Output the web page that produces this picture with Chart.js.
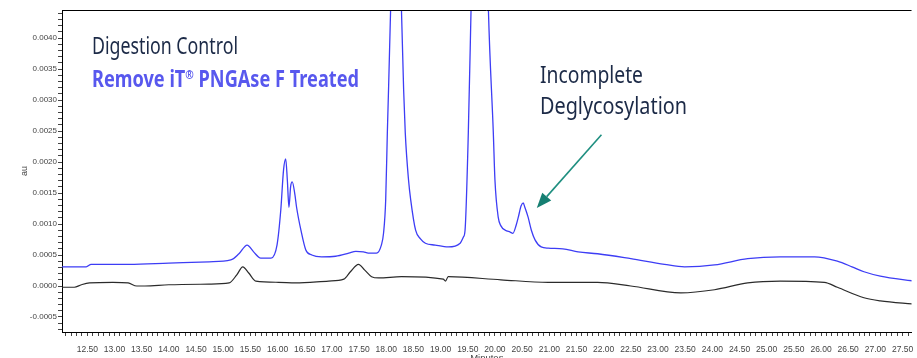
<!DOCTYPE html>
<html>
<head>
<meta charset="utf-8">
<script src="https://cdn.jsdelivr.net/npm/chart.js@4"></script>
<style>
html,body{margin:0;padding:0;background:#fff;}
#wrap{width:917px;height:358px;}
</style>
</head>
<body>
<div id="wrap"><canvas id="c" width="917" height="358"></canvas></div>
<script>
// ---------- DATA ----------
const treatedTimes = [12.02,12.35,12.48,12.57,13.27,14.00,14.74,15.14,15.29,15.44,15.56,15.69,15.88,15.99,16.06,16.11,16.15,16.18,16.21,16.24,16.27,16.32,16.35,16.43,16.52,16.63,16.81,17.07,17.31,17.44,17.58,17.67,17.82,17.91,17.95,17.99,18.02,18.08,18.18,18.28,18.32,18.35,18.41,18.45,18.54,18.63,18.72,18.90,19.14,19.36,19.42,19.45,19.51,19.56,19.72,19.88,19.97,20.00,20.06,20.11,20.19,20.28,20.33,20.39,20.43,20.48,20.52,20.55,20.61,20.67,20.74,20.85,20.98,21.25,21.53,21.89,22.50,23.12,23.49,24.04,24.65,25.25,25.88,26.30,26.57,26.79,27.09,27.71];
const treatedValues = [0.00031,0.00031,0.00031,0.00035,0.00035,0.00037,0.00039,0.00042,0.00052,0.00066,0.00055,0.00045,0.00045,0.00066,0.00123,0.00187,0.00205,0.00171,0.00127,0.00160,0.00168,0.00147,0.00127,0.00090,0.00058,0.00050,0.00047,0.00048,0.00053,0.00056,0.00055,0.00053,0.00053,0.00066,0.00085,0.00139,0.00247,0.00445,0.00950,0.00445,0.00316,0.00247,0.00171,0.00139,0.00090,0.00076,0.00069,0.00066,0.00063,0.00069,0.00079,0.00090,0.00247,0.00445,0.01100,0.00445,0.00247,0.00171,0.00111,0.00097,0.00090,0.00087,0.00085,0.00098,0.00111,0.00129,0.00134,0.00127,0.00111,0.00090,0.00074,0.00063,0.00061,0.00060,0.00055,0.00052,0.00044,0.00035,0.00031,0.00034,0.00044,0.00047,0.00047,0.00040,0.00031,0.00023,0.00016,0.00008];
const controlTimes = [12.02,12.26,12.39,12.54,12.97,13.25,13.41,13.56,14.00,14.74,15.11,15.25,15.36,15.47,15.60,16.02,16.33,16.94,17.22,17.34,17.49,17.60,17.73,17.86,18.28,19.05,19.09,19.14,20.11,20.98,21.89,22.50,23.42,24.04,24.65,25.25,26.06,26.30,26.79,27.09,27.71];
const controlValues = [-0.00002,-0.00002,0.00002,0.00005,0.00006,0.00005,0.00000,0.00000,0.00002,0.00003,0.00005,0.00018,0.00031,0.00021,0.00008,0.00006,0.00005,0.00008,0.00011,0.00023,0.00035,0.00026,0.00015,0.00013,0.00015,0.00011,0.00008,0.00015,0.00010,0.00006,0.00006,0.00000,-0.00011,-0.00006,0.00005,0.00008,0.00006,-0.00002,-0.00019,-0.00024,-0.00029];
const xTickLabels = ['12.50','13.00','13.50','14.00','14.50','15.00','15.50','16.00','16.50','17.00','17.50','18.00','18.50','19.00','19.50','20.00','20.50','21.00','21.50','22.00','22.50','23.00','23.50','24.00','24.50','25.00','25.50','26.00','26.50','27.00','27.50'];
const yTickLabels = ['-0.0005','0.0000','0.0005','0.0010','0.0015','0.0020','0.0025','0.0030','0.0035','0.0040'];
const seriesNames = ['Digestion Control','Remove iT® PNGAse F Treated'];
const calloutText = ['Incomplete','Deglycosylation'];
const arrowFrom = {x: 21.96, y: 0.00244};
const arrowTo = {x: 20.77, y: 0.00126};

// ---------- build ----------
const toXY = (ts, vs) => ts.map((t, i) => ({x: t, y: vs[i]}));
const TICKFONT = '"Liberation Sans",Arial,sans-serif';

function labelFor(list, v) {
  for (const l of list) if (Math.abs(parseFloat(l) - v) < 1e-9) return l;
  return '';
}

const annotations = {
  id: 'annotations',
  afterDraw(chart) {
    const {ctx, chartArea, scales} = chart;
    ctx.save();
    ctx.strokeStyle = '#000';
    ctx.lineWidth = 1;
    ctx.beginPath();
    ctx.moveTo(chartArea.left, chartArea.top + 0.5);
    ctx.lineTo(chartArea.right, chartArea.top + 0.5);
    ctx.stroke();
    ctx.restore();

    function fit(pieces, x, baseline, width) {
      ctx.save();
      let total = 0;
      for (const p of pieces) { ctx.font = p.font; total += ctx.measureText(p.text).width; }
      const s = width / total;
      ctx.translate(x, baseline);
      ctx.scale(s, 1);
      let cx = 0;
      for (const p of pieces) {
        ctx.font = p.font; ctx.fillStyle = p.color; ctx.textBaseline = 'alphabetic'; ctx.textAlign = 'left';
        ctx.fillText(p.text, cx, p.dy || 0);
        cx += ctx.measureText(p.text).width;
      }
      ctx.restore();
    }
    const dark = '#1c2a47';
    const blue = '#5858ee';
    fit([{text: seriesNames[0], font: '400 23px "Noto Sans"', color: dark}], 92, 54, 146);
    const nm = seriesNames[1].split('®');
    fit([
      {text: nm[0], font: '700 23px "Noto Sans"', color: blue},
      {text: '®', font: '700 13px "Noto Sans"', color: blue, dy: -8},
      {text: nm[1], font: '700 23px "Noto Sans"', color: blue}
    ], 92, 87, 267);
    fit([{text: calloutText[0], font: '400 24px "Noto Sans"', color: dark}], 540, 83, 103);
    fit([{text: calloutText[1], font: '400 24px "Noto Sans"', color: dark}], 540, 114, 147);

    const x1 = scales.x.getPixelForValue(arrowFrom.x), y1 = scales.y.getPixelForValue(arrowFrom.y);
    const x2 = scales.x.getPixelForValue(arrowTo.x), y2 = scales.y.getPixelForValue(arrowTo.y);
    const ang = Math.atan2(y2 - y1, x2 - x1);
    const hl = 15, hw = 6;
    const bx = x2 - hl * Math.cos(ang), by = y2 - hl * Math.sin(ang);
    ctx.save();
    ctx.strokeStyle = '#1f8f80';
    ctx.fillStyle = '#167f72';
    ctx.lineWidth = 1.6;
    ctx.beginPath(); ctx.moveTo(x1, y1); ctx.lineTo(bx, by); ctx.stroke();
    ctx.beginPath();
    ctx.moveTo(x2, y2);
    ctx.lineTo(bx + hw * Math.sin(ang), by - hw * Math.cos(ang));
    ctx.lineTo(bx - hw * Math.sin(ang), by + hw * Math.cos(ang));
    ctx.closePath(); ctx.fill();
    ctx.restore();
  }
};

new Chart(document.getElementById('c'), {
  type: 'line',
  data: {
    datasets: [
      {label: seriesNames[1], data: toXY(treatedTimes, treatedValues), borderColor: '#3d3df5', borderWidth: 1.3, pointRadius: 0, cubicInterpolationMode: 'monotone', fill: false},
      {label: seriesNames[0], data: toXY(controlTimes, controlValues), borderColor: '#2b2b2b', borderWidth: 1.2, pointRadius: 0, cubicInterpolationMode: 'monotone', fill: false}
    ]
  },
  options: {
    responsive: false,
    animation: false,
    devicePixelRatio: 1,
    layout: {padding: {top: 10, right: 0, left: 0, bottom: 0}},
    plugins: {legend: {display: false}, tooltip: {enabled: false}},
    scales: {
      x: {
        type: 'linear', position: 'bottom', min: 12.034, max: 27.665,
        border: {display: true, color: '#000', width: 1},
        grid: {drawOnChartArea: false, drawTicks: true, tickLength: 4, color: '#444'},
        afterBuildTicks(s) { const t = []; for (let i = 121; i <= 276; i++) t.push({value: i / 10}); s.ticks = t; },
        ticks: {autoSkip: false, maxRotation: 0, minRotation: 0, padding: 9, color: '#444', font: {family: TICKFONT, size: 8.5},
          callback: v => labelFor(xTickLabels, v)},
        title: {display: true, text: 'Minutes', color: '#444', font: {family: TICKFONT, size: 9.5}, padding: {top: 0, bottom: -6}},
        afterFit(s) { s.height = 26; }
      },
      y: {
        type: 'linear', position: 'left', min: -0.000742, max: 0.004452,
        border: {display: true, color: '#000', width: 1},
        grid: {drawOnChartArea: false, drawTicks: true, tickLength: 4, color: '#444'},
        afterBuildTicks(s) { const t = []; for (let i = -7; i <= 44; i++) t.push({value: i / 10000}); s.ticks = t; },
        ticks: {autoSkip: false, padding: 1, color: '#444', font: {family: TICKFONT, size: 8}, 
          callback: v => labelFor(yTickLabels, v)},
        title: {display: true, text: 'au', color: '#444', font: {family: TICKFONT, size: 9}, padding: {top: 19, bottom: 0}},
        afterFit(s) { s.width = 62; }
      }
    }
  },
  plugins: [annotations]
});
</script>
</body>
</html>
